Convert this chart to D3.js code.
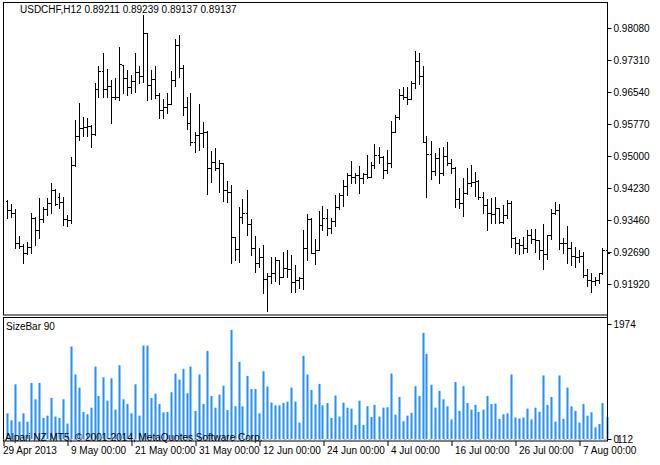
<!DOCTYPE html>
<html>
<head>
<meta charset="utf-8">
<script src="https://cdn.jsdelivr.net/npm/d3@7"></script>
<style>
  body { margin: 0; background: #fff; }
  text { font-family: "Liberation Sans", Arial, sans-serif; font-size: 10px; fill: #000; }
</style>
</head>
<body>
<svg width="660" height="465"></svg>
<script>
const opens = [93918,93701,93621,92915,92835,92675,92819,93501,93220,93485,93717,93862,94183,94022,93902,93477,93460,94784,95482,95666,
  95706,95722,95530,96605,97046,96605,96685,96428,96412,97190,96869,96653,96805,97030,96925,97952,96709,96853,96468,96107,
  96172,96252,96829,97671,97110,96188,95787,95345,95506,95546,95586,94704,94864,94704,94824,94183,94142,93044,92755,93525,
  93637,93365,92779,92434,92579,92033,92113,92194,92498,92097,92298,92274,91977,92017,92057,92779,93477,92675,92739,93340,
  93501,93260,93445,93782,94062,94279,94543,94503,94543,94463,94568,94487,94784,95025,94969,94664,94824,95586,95931,96468,
  96428,96364,96749,97286,96925,95345,95049,94648,94944,94584,95001,94824,94704,93958,93862,94118,94359,94383,94407,94022,
  93822,93621,93605,93741,93421,93581,93862,93020,92915,92859,92779,93100,92996,92980,92739,92643,93100,93621,93701,92899,
  92899,92779,92595,92579,92595,92137,92017,92001,92017,92178,92739];
const highs = [93942,93846,93717,93076,92875,92939,93621,93541,93982,93782,93982,94343,94207,94102,94022,93581,94985,95867,96268,95947,
  95907,95746,96749,97166,97487,97086,96829,96869,97615,97190,97070,96949,97487,97166,98393,97952,97070,97166,96508,96364,
  96508,97054,97808,97912,97190,96428,96508,95586,96252,95827,95590,95121,95201,94904,94840,94399,94303,93060,93782,93958,
  94183,93477,93076,92779,92859,92178,92579,92579,92498,92699,92739,92619,92378,92097,93220,93605,93501,92996,93685,93798,
  93717,93501,94062,94102,94423,94600,94880,94600,94760,94600,95025,94864,95289,95225,95001,95145,95851,95987,96605,96669,
  96653,96813,97535,97471,97166,95482,95370,95081,95185,95225,95345,94920,94744,94223,94463,94704,94784,94624,94423,94142,
  93958,93982,94006,93741,93822,93942,93926,93044,92996,93044,93220,93236,93236,92980,93365,93100,93717,93902,93846,93020,
  93316,92939,92819,92739,92699,92274,92194,92097,92194,92779,92835];
const lows = [93501,93525,92779,92779,92434,92643,92659,92859,93020,93421,93581,93637,93822,93741,93340,93316,93397,94760,95386,95482,
  95482,95209,95506,96428,96428,96428,95787,96364,96348,96508,96468,96508,96548,96765,96789,96348,96364,96388,95907,95907,
  96043,96252,96685,96893,95987,95642,95265,95105,95145,95225,94078,94383,94664,94142,93926,93902,92430,92498,92458,93397,
  93100,92619,92218,92338,91696,91279,91953,92001,91921,92080,92097,91736,91736,91817,91793,92498,92659,92402,92739,93220,
  93100,93140,93316,93717,93798,94062,94359,94359,94102,94359,94463,94487,94704,94840,94463,94600,94728,95570,95883,96364,
  96252,96364,96629,96733,95345,94022,94439,94543,94359,94543,94784,94584,93766,93741,93557,94086,94279,94038,93958,93637,
  93220,93381,93397,93397,93397,93501,92819,92675,92643,92675,92699,92899,92699,92514,92274,92514,92996,93605,92755,92675,
  92434,92378,92338,92458,92097,91873,91736,91897,91937,92162,92458];
const closes = [93701,93621,92915,92835,92675,92819,93501,93220,93485,93717,93862,94183,93846,93902,93477,93460,94784,95482,95666,95706,
  95722,95530,96605,97046,96605,96685,96428,96412,97214,96869,96653,96805,97030,96925,97952,96709,96853,96468,96107,96172,
  96252,96829,97671,97110,96188,95787,95345,95506,95546,95586,94704,94864,94704,94824,94183,94142,93044,92755,93525,93637,
  93365,92779,92434,92579,92033,92113,92194,92498,92097,92298,92274,91977,92017,92057,92779,93477,92675,92739,93340,93501,
  93260,93445,93782,94062,94279,94543,94503,94543,94463,94568,94487,94784,95025,94969,94664,94824,95586,95931,96468,96428,
  96364,96749,97286,96925,95345,95049,94648,94944,94584,95001,94824,94704,93958,93862,94118,94359,94383,94407,94022,93822,
  93621,93605,93741,93421,93581,93862,93020,92915,92859,92779,93100,92996,92980,92739,92643,93100,93621,93701,92899,92899,
  92779,92595,92579,92595,92137,92017,92001,92017,92178,92739,92675];
const priceTicks = [0.98080,0.97310,0.96540,0.95770,0.95000,0.94230,0.93460,0.92690,0.91920];
const dateTicks = [0,16,32,48,64,80,96,112,128,144];
const dateLabels = ["29 Apr 2013","9 May 00:00","21 May 00:00","31 May 00:00","12 Jun 00:00",
  "24 Jun 00:00","4 Jul 00:00","16 Jul 00:00","26 Jul 00:00","7 Aug 00:00"];

const P = 1e5;
const svg = d3.select('svg');
const left = 3.5, right = 607.5;

const x = d3.scaleLinear().domain([0, 150]).range([6.5, 606.5]);
const y = d3.scaleLinear().domain([0.91174, 0.98682]).range([315, 3]);
const yh = d3.scaleLinear().domain([0, 1974]).range([439, 324]);

// frames
svg.append('rect').attr('x', left).attr('y', 2.5).attr('width', right - left).attr('height', 312.5)
  .attr('fill', 'none').attr('stroke', '#000');
svg.append('rect').attr('x', left).attr('y', 317.5).attr('width', right - left).attr('height', 123.5)
  .attr('fill', 'none').attr('stroke', '#000');

// OHLC bars
const g = svg.append('g').attr('stroke', '#000').attr('stroke-width', 1).attr('shape-rendering', 'crispEdges');
highs.forEach((h, i) => {
  const xi = Math.round(x(i)) + 0.5;
  g.append('line').attr('x1', xi).attr('x2', xi).attr('y1', y(h / P)).attr('y2', y(lows[i] / P) + 1);
  const yo = Math.round(y(opens[i] / P)) + 0.5, yc = Math.round(y(closes[i] / P)) + 0.5;
  g.append('line').attr('x1', xi - 2).attr('x2', xi).attr('y1', yo).attr('y2', yo);
  g.append('line').attr('x1', xi).attr('x2', xi + 2).attr('y1', yc).attr('y2', yc);
});

// SizeBar histogram
svg.append('line').attr('x1', left).attr('x2', right).attr('y1', 439.5).attr('y2', 439.5)
  .attr('stroke', '#c0c0c0').attr('stroke-dasharray', '3,2');
svg.append('g').selectAll('rect').data(highs).enter().append('rect')
  .attr('fill', '#1e90ff')
  .attr('x', (d, i) => Math.round(x(i)) - 0.5)
  .attr('width', 2)
  .attr('y', (d, i) => yh(d - lows[i]))
  .attr('height', (d, i) => yh(0) - yh(d - lows[i]));

// price axis
const font = '"Liberation Sans", Arial, sans-serif';
const pa = svg.append('g').attr('transform', `translate(${right},0)`)
  .call(d3.axisRight(y).tickValues(priceTicks).tickSize(4).tickFormat(d3.format('.5f')));
pa.select('.domain').remove();
pa.selectAll('text').attr('x', 6).style('font-size', '10px').style('font-family', font);

const ha = svg.append('g').attr('transform', `translate(${right},0)`)
  .call(d3.axisRight(yh).tickValues([1974, 0]).tickSize(4).tickFormat(d3.format('d')));
ha.select('.domain').remove();
ha.selectAll('text').attr('x', 6).style('font-size', '10px').style('font-family', font);
svg.append('text').attr('x', 617).attr('y', 443).text('112');
svg.append('line').attr('x1', right).attr('x2', right).attr('y1', 2).attr('y2', 441).attr('stroke', '#000');

// time axis
const ta = svg.append('g').attr('transform', 'translate(0,441)')
  .call(d3.axisBottom(x).tickValues(dateTicks).tickSize(5).tickFormat((d, i) => dateLabels[i]));
ta.select('.domain').remove();
ta.selectAll('.tick line').attr('transform', 'translate(-3,0)');
ta.selectAll('text').attr('text-anchor', 'start').attr('x', 0).attr('y', 6)
  .style('font-size', '10px').style('font-family', font);
ta.select('.tick text').attr('x', -4);

svg.append('text').attr('x', 20).attr('y', 13).text('USDCHF,H12  0.89211 0.89239 0.89137 0.89137');
svg.append('text').attr('x', 6).attr('y', 330).text('SizeBar 90');
svg.append('text').attr('x', 5).attr('y', 441).text('Alpari NZ MT5, © 2001-2014, MetaQuotes Software Corp.');
</script>
</body>
</html>
